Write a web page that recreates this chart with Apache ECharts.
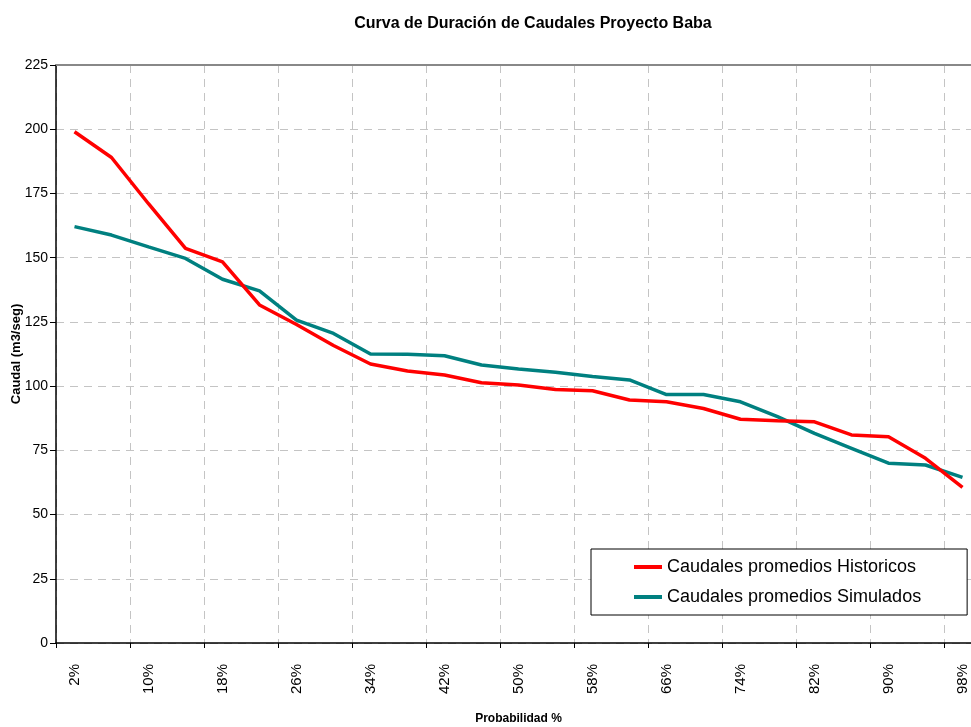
<!DOCTYPE html>
<html>
<head>
<meta charset="utf-8">
<script src="https://cdn.jsdelivr.net/npm/echarts@6/dist/echarts.min.js"></script>
<style>
html,body{margin:0;padding:0;background:#fff;}
#c{width:971px;height:727px;}
</style>
</head>
<body>
<div id="c"></div>
<script>
const categories = ['2%','6%','10%','14%','18%','22%','26%','30%','34%','38%','42%','46%','50%','54%','58%','62%','66%','70%','74%','78%','82%','86%','90%','94%','98%'];
const historicos = [199, 189, 171, 153.6, 148.4, 131.6, 124, 115.8, 108.6, 105.9, 104.3, 101.3, 100.4, 98.7, 98.2, 94.6, 93.9, 91.3, 87.1, 86.5, 86.1, 81, 80.3, 71.9, 60.6];
const simulados = [162.1, 158.8, 154.2, 149.7, 141.6, 137.1, 125.7, 120.5, 112.5, 112.4, 111.8, 108.2, 106.7, 105.4, 103.7, 102.4, 96.7, 96.7, 93.9, 88.1, 81.6, 75.8, 70.0, 69.3, 64.5];
const yTicks = {min: 0, max: 225, interval: 25};

const FONT = '"Liberation Sans", Arial, sans-serif';
const chart = echarts.init(document.getElementById('c'), null, {renderer: 'canvas'});
chart.setOption({
  backgroundColor: '#fff',
  animation: false,
  textStyle: {fontFamily: FONT, color: '#000'},
  title: {
    text: 'Curva de Duración de Caudales Proyecto Baba',
    left: 528, top: 11, textAlign: 'center',
    textStyle: {fontFamily: FONT, fontSize: 16, fontWeight: 'bold', color: '#000'}
  },
  legend: {
    orient: 'vertical',
    left: 591, top: 549,
    padding: [9, 46, 9, 43],
    backgroundColor: '#fff',
    borderColor: '#000', borderWidth: 1,
    itemWidth: 28, itemHeight: 4, itemGap: 12,
    icon: 'rect',
    textStyle: {fontFamily: FONT, fontSize: 18, color: '#000', padding: [0,0,0,0]},
    data: ['Caudales promedios Historicos', 'Caudales promedios Simulados']
  },
  grid: {left: 56, top: 65, width: 925, height: 578, containLabel: false, outerBoundsMode: 'none'},
  xAxis: [{
    type: 'category',
    data: categories,
    boundaryGap: true,
    name: 'Probabilidad %',
    nameLocation: 'middle',
    nameGap: 70,
    nameMoveOverlap: false,
    nameTextStyle: {fontFamily: FONT, fontSize: 12, fontWeight: 'bold', color: '#000'},
    axisLine: {lineStyle: {color: '#000', width: 1.5}},
    axisTick: {show: true, interval: 1, length: 5, lineStyle: {color: '#000'}},
    axisLabel: {interval: 1, rotate: 90, margin: 21, fontSize: 15, color: '#000', fontFamily: FONT},
    splitLine: {show: true, interval: 1, lineStyle: {color: '#c4c4c4', type: [8, 6], width: 1}}
  }, {
    type: 'category',
    data: categories,
    position: 'top',
    axisLine: {lineStyle: {color: '#888', width: 2}},
    axisTick: {show: false},
    axisLabel: {show: false},
    splitLine: {show: false}
  }],
  yAxis: {
    type: 'value',
    min: yTicks.min, max: yTicks.max, interval: yTicks.interval,
    name: 'Caudal (m3/seg)',
    nameLocation: 'middle',
    nameGap: 33,
    nameRotate: 90,
    nameMoveOverlap: false,
    nameTextStyle: {fontFamily: FONT, fontSize: 13, fontWeight: 'bold', color: '#000'},
    axisLine: {show: true, lineStyle: {color: '#000', width: 1.5}},
    axisTick: {show: true, length: 6, lineStyle: {color: '#000'}},
    axisLabel: {fontSize: 14, color: '#000', margin: 8, fontFamily: FONT},
    splitLine: {show: true, lineStyle: {color: '#c4c4c4', type: [8, 6], width: 1}}
  },
  series: [{
    name: 'Caudales promedios Historicos',
    type: 'line',
    data: historicos,
    symbol: 'none',
    itemStyle: {color: '#ff0000'},
    lineStyle: {color: '#ff0000', width: 3.5},
    z: 3
  }, {
    name: 'Caudales promedios Simulados',
    type: 'line',
    data: simulados,
    symbol: 'none',
    itemStyle: {color: '#008080'},
    lineStyle: {color: '#008080', width: 3.5},
    z: 2
  }]
});
</script>
</body>
</html>
